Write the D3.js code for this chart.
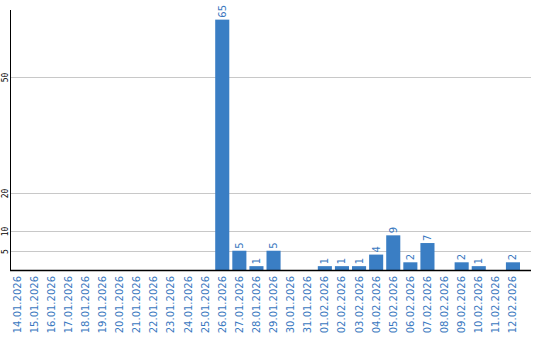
<!doctype html>
<html>
<head>
<meta charset="UTF-8">
<style>
  body { margin: 0; padding: 0; background: #fff; }
  svg { display: block; }
  .grid line { stroke: #c8c8c8; stroke-width: 1px; }
  .ytick text { font-family: "DejaVu Sans Mono", monospace; font-size: 8px; fill: #000; }
  .xlab { font-family: "DejaVu Sans", sans-serif; font-size: 10px; fill: #3a78c0; }
  .val { font-family: "DejaVu Sans", sans-serif; font-size: 10px; fill: #3a78c0; }
</style>
</head>
<body>
<svg width="540" height="340"></svg>
<script src="https://d3js.org/d3.v7.min.js"></script>
<script>
// dates shown on x axis
const dates = ["14.01.2026","15.01.2026","16.01.2026","17.01.2026","18.01.2026","19.01.2026",
  "20.01.2026","21.01.2026","22.01.2026","23.01.2026","24.01.2026","25.01.2026","26.01.2026",
  "27.01.2026","28.01.2026","29.01.2026","30.01.2026","31.01.2026","01.02.2026","02.02.2026",
  "03.02.2026","04.02.2026","05.02.2026","06.02.2026","07.02.2026","08.02.2026","09.02.2026",
  "10.02.2026","11.02.2026","12.02.2026"];
const counts = [0,0,0,0,0,0,0,0,0,0,0,0,65,5,1,5,0,0,1,1,1,4,9,2,7,0,2,1,0,2];
const yTicks = [5, 10, 20, 50];

const padL = 10, padR = 531, padT = 10, base = 270;

const svg = d3.select("svg");

const x = d3.scaleBand()
    .domain(dates)
    .range([padL, padL + 17 * dates.length])
    .paddingInner(3 / 17)
    .paddingOuter(0)
    .align(0);

const y = d3.scaleLinear().domain([0, 67.5]).range([base, padT]);

// grid lines
const grid = svg.append("g").attr("class", "grid");
grid.selectAll("line").data(yTicks).enter().append("line")
    .attr("x1", padL).attr("x2", padR)
    .attr("y1", d => Math.round(y(d)) + 0.5)
    .attr("y2", d => Math.round(y(d)) + 0.5);

// y tick labels, rotated
svg.selectAll(".ytick").data(yTicks).enter().append("g")
    .attr("class", "ytick")
    .attr("transform", d => `translate(8,${Math.round(y(d)) + 0.5}) rotate(-90)`)
    .append("text")
    .attr("text-anchor", "middle")
    .text(d => d);

// bars
svg.selectAll(".bar").data(counts).enter().append("rect")
    .attr("class", "bar")
    .attr("x", (d, i) => x(dates[i]))
    .attr("width", x.bandwidth())
    .attr("y", d => y(d))
    .attr("height", d => base - y(d))
    .attr("fill", "#3a7ec4");

// value labels
svg.selectAll(".val").data(counts.map((v, i) => ({ v, d: dates[i] })).filter(o => o.v > 0))
    .enter().append("text")
    .attr("class", "val")
    .attr("transform", o => `translate(${x(o.d) + x.bandwidth() / 2 + 3.5},${y(o.v) - 2}) rotate(-90)`)
    .text(o => o.v);

// axes lines
svg.append("line").attr("x1", padL + 0.5).attr("x2", padL + 0.5)
    .attr("y1", padT).attr("y2", base + 1)
    .attr("stroke", "#000").attr("stroke-width", 1);
svg.append("line").attr("x1", padL).attr("x2", padR)
    .attr("y1", base + 0.5).attr("y2", base + 0.5)
    .attr("stroke", "#000").attr("stroke-width", 1.5);

// x labels
svg.selectAll(".xlab").data(dates).enter().append("text")
    .attr("class", "xlab")
    .attr("text-anchor", "end")
    .attr("transform", d => `translate(${x(d) + x.bandwidth() / 2 + 3.5},${base + 6}) rotate(-90)`)
    .text(d => d);
</script>
</body>
</html>
